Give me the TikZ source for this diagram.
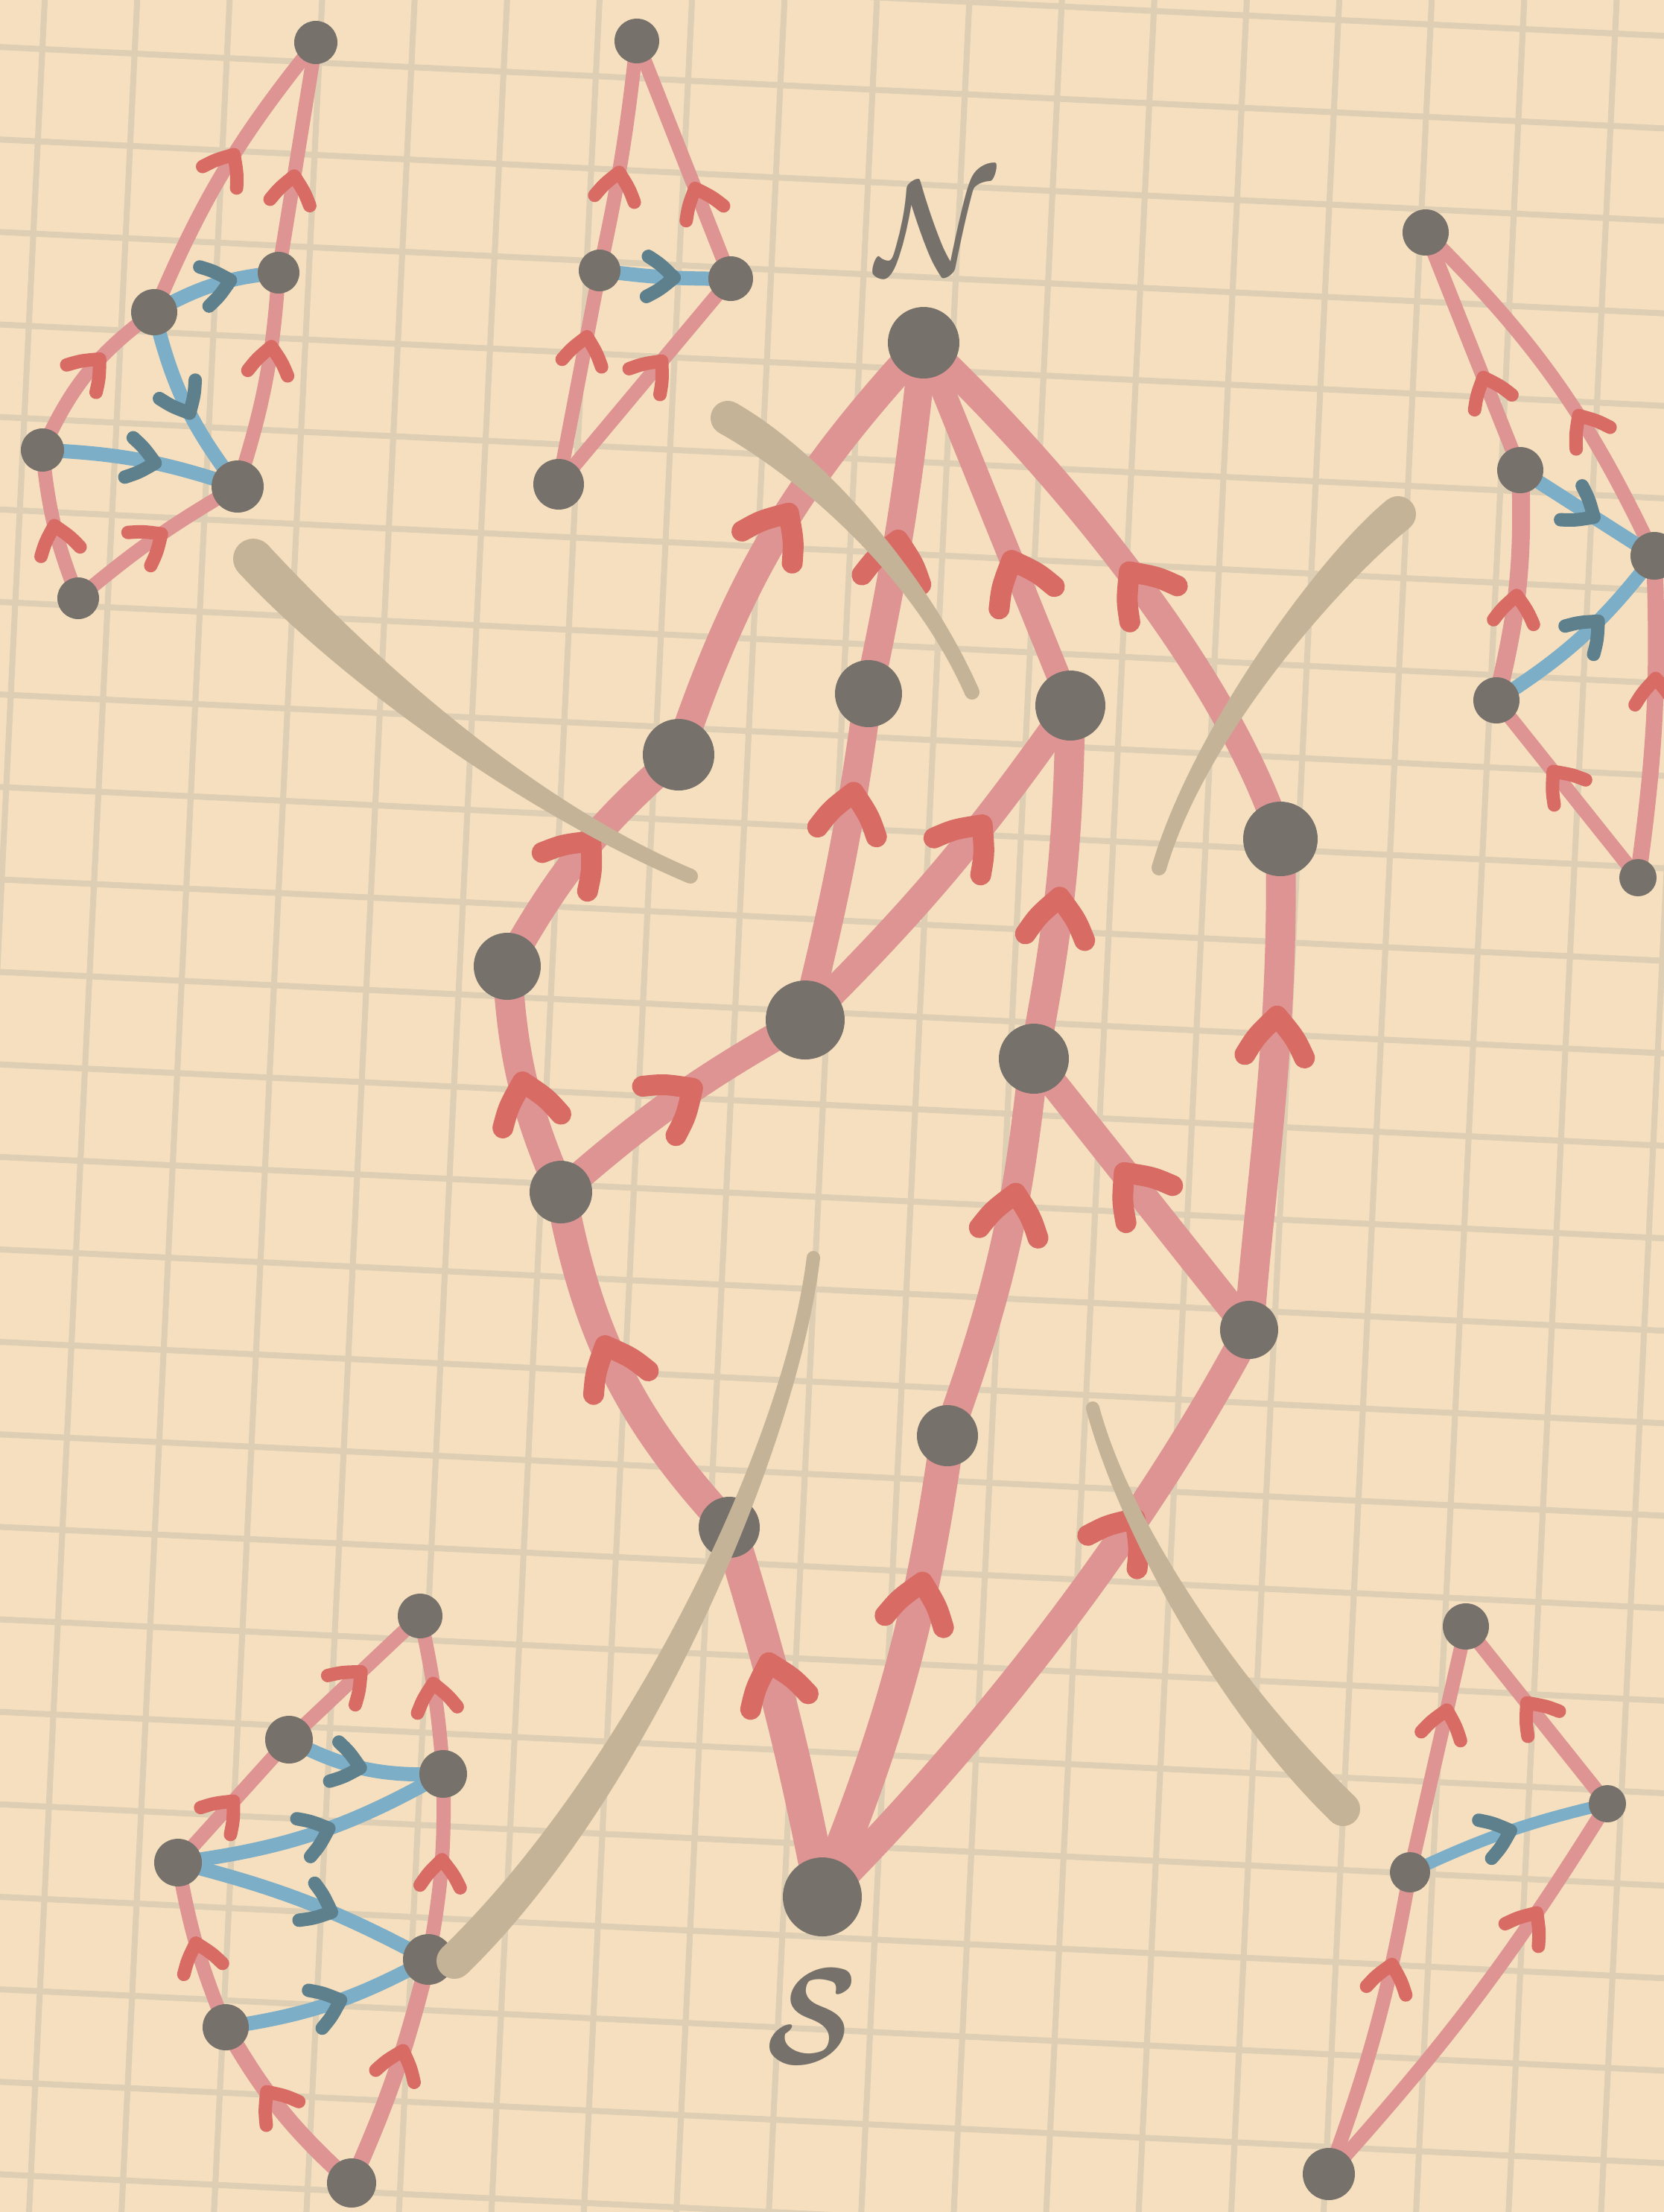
\documentclass[tikz,border=0pt]{standalone}
\usepackage{graphicx}
\usepackage{bm}
\usetikzlibrary{calc,decorations.markings}
\definecolor{bgc}{HTML}{F5DFBE}
\definecolor{gridc}{HTML}{DDCEB4}
\definecolor{edgepink}{HTML}{DF9494}
\definecolor{arrred}{HTML}{D86B64}
\definecolor{edgeblue}{HTML}{7CAEC8}
\definecolor{arrblue}{HTML}{5E808C}
\definecolor{dotgray}{HTML}{76716A}
\definecolor{tanc}{HTML}{C4B397}
\tikzset{
  gridline/.style={draw=gridc, line width=0.08cm},
  blob/.style={circle, fill=dotgray, inner sep=0pt, minimum size=#1},
  medge/.style={draw=edgepink, line width=0.38cm, line cap=round},
  sedge/.style={draw=edgepink, line width=0.19cm, line cap=round},
  bedge/.style={draw=edgeblue, line width=0.19cm, line cap=round},
  marr/.style={postaction={decorate, decoration={markings, mark=at position #1 with {\draw[arrred, line width=0.28cm, line cap=round, line join=round] (-0.54,0.40) .. controls (-0.28,0.26) .. (0,0) .. controls (-0.28,-0.26) .. (-0.54,-0.40);}}}},
  sarr/.style={postaction={decorate, decoration={markings, mark=at position #1 with {\draw[arrred, line width=0.18cm, line cap=round, line join=round] (-0.36,0.27) .. controls (-0.19,0.17) .. (0,0) .. controls (-0.19,-0.17) .. (-0.36,-0.27);}}}},
  barr/.style={postaction={decorate, decoration={markings, mark=at position #1 with {\draw[arrblue, line width=0.18cm, line cap=round, line join=round] (-0.36,0.27) .. controls (-0.19,0.17) .. (0,0) .. controls (-0.19,-0.17) .. (-0.36,-0.27);}}}},
  lbl/.style={text=dotgray, inner sep=0pt},
}
\newcommand\tanstroke[6]{%
  \fill[tanc] ($#1!#5!90:#2$) .. controls ($#2!#5!-90:#1$) and ($#3!#6!90:#4$) .. ($#4!#6!-90:#3$)
    -- ($#4!#6!90:#3$) .. controls ($#3!#6!-90:#4$) and ($#2!#5!90:#1$) .. ($#1!#5!-90:#2$) -- cycle;
  \fill[tanc] #1 circle (#5);
  \fill[tanc] #4 circle (#6);
}
\begin{document}
\begin{tikzpicture}
\useasboundingbox (0,0) rectangle (22.34,-29.69);
\clip (0,0) rectangle (22.34,-29.69);
\fill[bgc] (0,0) rectangle (22.34,-29.69);
% grid
\begin{scope}[rotate=-2.8]
  \foreach \k in {-3,...,22} { \draw[gridline] ({(60+124*\k)/100},3) -- ({(60+124*\k)/100},-33); }
  \foreach \k in {-3,...,26} { \draw[gridline] (-3,{-(63+124*\k)/100}) -- (26,{-(63+124*\k)/100}); }
\end{scope}
% main positions
\coordinate (N) at (12.40,-4.60);
\coordinate (A) at (9.11,-10.13);
\coordinate (B) at (6.81,-12.97);
\coordinate (C) at (7.53,-16.00);
\coordinate (D) at (9.79,-20.50);
\coordinate (E) at (11.66,-9.31);
\coordinate (F) at (14.37,-9.47);
\coordinate (G) at (10.81,-13.69);
\coordinate (H) at (13.88,-14.21);
\coordinate (I) at (17.19,-11.26);
\coordinate (J) at (16.77,-17.85);
\coordinate (K) at (12.72,-19.27);
\coordinate (S) at (11.04,-25.46);
% small graphs positions
\coordinate (TLa) at (4.24,-0.57);
\coordinate (TLb) at (3.74,-3.66);
\coordinate (TLc) at (2.07,-4.19);
\coordinate (TLd) at (0.57,-6.04);
\coordinate (TLe) at (3.19,-6.53);
\coordinate (TLf) at (1.05,-8.03);
\coordinate (TMa) at (8.55,-0.55);
\coordinate (TMb) at (8.05,-3.63);
\coordinate (TMc) at (9.81,-3.74);
\coordinate (TMd) at (7.50,-6.50);
\coordinate (TRa) at (19.14,-3.12);
\coordinate (TRb) at (20.41,-6.31);
\coordinate (TRc) at (22.21,-7.46);
\coordinate (TRd) at (20.09,-9.40);
\coordinate (TRe) at (21.99,-11.78);
\coordinate (BLa) at (5.64,-21.69);
\coordinate (BLb) at (3.88,-23.35);
\coordinate (BLc) at (5.95,-23.81);
\coordinate (BLd) at (2.39,-25.00);
\coordinate (BLe) at (5.75,-26.30);
\coordinate (BLf) at (3.03,-27.21);
\coordinate (BLg) at (4.72,-29.30);
\coordinate (BRa) at (19.68,-21.83);
\coordinate (BRb) at (21.58,-24.21);
\coordinate (BRc) at (18.93,-25.13);
\coordinate (BRd) at (17.84,-29.18);
% main edges
\draw[medge, line width=0.40cm, marr=0.55] (A) to[bend left=12] (N);
\draw[medge, marr=0.44] (E) to[bend right=3] (N);
\draw[medge, line width=0.32cm, marr=0.40] (F) -- (N);
\draw[medge, line width=0.36cm, marr=0.50] (I) .. controls (16.40,-8.80) and (13.80,-5.90) .. (N);
\draw[medge, marr=0.55] (B) to[bend left=10] (A);
\draw[medge, line width=0.40cm, marr=0.50] (C) to[bend left=10] (B);
\draw[medge, marr=0.56] (C) to[bend left=6] (G);
\draw[medge, marr=0.70] (G) to[bend right=3] (E);
\draw[medge, marr=0.64] (G) to[bend right=5] (F);
\draw[medge, line width=0.40cm, marr=0.46] (H) to[bend right=5] (F);
\draw[medge, line width=0.42cm, marr=0.58] (D) to[bend left=16] (C);
\draw[medge, line width=0.46cm, marr=0.63] (S) to[bend right=3] (D);
\draw[medge, line width=0.46cm, marr=0.69] (S) to[bend right=7] (K);
\draw[medge, line width=0.40cm, marr=0.65] (K) to[bend right=7] (H);
\draw[medge, marr=0.58] (J) -- (H);
\draw[medge, line width=0.40cm, marr=0.64] (J) .. controls (16.90,-16.00) and (17.25,-14.00) .. (I);
\draw[medge, line width=0.40cm, marr=0.69] (S) .. controls (13.00,-23.50) and (15.20,-20.80) .. (J);
% top-left graph
\draw[sedge, sarr=0.56] (TLc) to[bend left=8] (TLa);
\draw[sedge, sarr=0.42] (TLb) -- (TLa);
\draw[sedge, sarr=0.66] (TLe) to[bend right=7] (TLb);
\draw[sedge, sarr=0.60] (TLd) to[bend left=15] (TLc);
\draw[sedge, sarr=0.50] (TLf) to[bend left=8] (TLd);
\draw[sedge, sarr=0.54] (TLf) to[bend left=5] (TLe);
\draw[bedge, barr=0.63] (TLc) to[bend left=12] (TLb);
\draw[bedge, barr=0.55] (TLc) to[bend right=12] (TLe);
\draw[bedge, barr=0.57] (TLd) to[bend left=8] (TLe);
% top-middle graph
\draw[sedge, sarr=0.43] (TMb) to[bend right=3] (TMa);
\draw[sedge, sarr=0.38] (TMc) -- (TMa);
\draw[sedge, sarr=0.69] (TMd) -- (TMb);
\draw[sedge, sarr=0.60] (TMd) -- (TMc);
\draw[bedge, barr=0.57] (TMb) to[bend right=4] (TMc);
% top-right graph
\draw[sedge, sarr=0.39] (TRb) -- (TRa);
\draw[sedge, sarr=0.40] (TRc) to[bend right=10] (TRa);
\draw[sedge, line width=0.24cm, sarr=0.46] (TRd) to[bend right=8] (TRb);
\draw[sedge, sarr=0.60] (TRe) -- (TRd);
\draw[sedge, line width=0.22cm, sarr=0.62] (TRe) to[bend right=5] (TRc);
\draw[bedge, barr=0.55] (TRb) -- (TRc);
\draw[bedge, barr=0.60] (TRd) to[bend right=10] (TRc);
% bottom-left graph
\draw[sedge, sarr=0.55] (BLb) -- (BLa);
\draw[sedge, sarr=0.57] (BLc) to[bend right=4] (BLa);
\draw[sedge, sarr=0.50] (BLd) -- (BLb);
\draw[sedge, sarr=0.54] (BLe) to[bend right=6] (BLc);
\draw[sedge, sarr=0.52] (BLf) to[bend left=6] (BLd);
\draw[sedge, line width=0.22cm, sarr=0.62] (BLg) to[bend left=9] (BLf);
\draw[sedge, line width=0.22cm, sarr=0.60] (BLg) to[bend right=5] (BLe);
\draw[bedge, barr=0.48] (BLb) to[bend right=15] (BLc);
\draw[bedge, barr=0.55] (BLd) to[bend right=11] (BLc);
\draw[bedge, barr=0.60] (BLd) to[bend left=7] (BLe);
\draw[bedge, barr=0.55] (BLf) to[bend right=10] (BLe);
% bottom-right graph
\draw[sedge, sarr=0.66] (BRc) -- (BRa);
\draw[sedge, sarr=0.57] (BRb) -- (BRa);
\draw[sedge, sarr=0.70] (BRd) to[bend right=5] (BRc);
\draw[sedge, sarr=0.72] (BRd) to[bend right=5] (BRb);
\draw[bedge, line width=0.16cm, barr=0.52] (BRc) to[bend left=6] (BRb);
% main nodes
\node[blob=0.96cm] (nN) at (N) {};
\node[blob=0.96cm] (nA) at (A) {};
\node[blob=0.90cm] (nB) at (B) {};
\node[blob=0.84cm] (nC) at (C) {};
\node[blob=0.82cm] (nD) at (D) {};
\node[blob=0.90cm] (nE) at (E) {};
\node[blob=0.94cm] (nF) at (F) {};
\node[blob=1.06cm] (nG) at (G) {};
\node[blob=0.94cm] (nH) at (H) {};
\node[blob=1.00cm] (nI) at (I) {};
\node[blob=0.78cm] (nJ) at (J) {};
\node[blob=0.82cm] (nK) at (K) {};
\node[blob=1.06cm] (nS) at (S) {};
% small nodes
\node[blob=0.58cm] (nTLa) at (TLa) {};
\node[blob=0.56cm] (nTLb) at (TLb) {};
\node[blob=0.62cm] (nTLc) at (TLc) {};
\node[blob=0.58cm] (nTLd) at (TLd) {};
\node[blob=0.70cm] (nTLe) at (TLe) {};
\node[blob=0.56cm] (nTLf) at (TLf) {};
\node[blob=0.60cm] (nTMa) at (TMa) {};
\node[blob=0.56cm] (nTMb) at (TMb) {};
\node[blob=0.60cm] (nTMc) at (TMc) {};
\node[blob=0.68cm] (nTMd) at (TMd) {};
\node[blob=0.62cm] (nTRa) at (TRa) {};
\node[blob=0.62cm] (nTRb) at (TRb) {};
\node[blob=0.64cm] (nTRc) at (TRc) {};
\node[blob=0.62cm] (nTRd) at (TRd) {};
\node[blob=0.50cm] (nTRe) at (TRe) {};
\node[blob=0.60cm] (nBLa) at (BLa) {};
\node[blob=0.64cm] (nBLb) at (BLb) {};
\node[blob=0.64cm] (nBLc) at (BLc) {};
\node[blob=0.64cm] (nBLd) at (BLd) {};
\node[blob=0.68cm] (nBLe) at (BLe) {};
\node[blob=0.62cm] (nBLf) at (BLf) {};
\node[blob=0.66cm] (nBLg) at (BLg) {};
\node[blob=0.62cm] (nBRa) at (BRa) {};
\node[blob=0.50cm] (nBRb) at (BRb) {};
\node[blob=0.54cm] (nBRc) at (BRc) {};
\node[blob=0.70cm] (nBRd) at (BRd) {};
% tan strokes
\tanstroke{(3.40,-7.50)}{(4.70,-8.90)}{(7.00,-10.80)}{(9.27,-11.76)}{0.27cm}{0.10cm}
\tanstroke{(9.77,-5.61)}{(10.90,-6.25)}{(12.35,-7.70)}{(13.05,-9.29)}{0.23cm}{0.10cm}
\tanstroke{(18.77,-6.90)}{(17.90,-7.60)}{(16.10,-9.80)}{(15.56,-11.65)}{0.24cm}{0.10cm}
\tanstroke{(10.92,-16.88)}{(10.60,-19.50)}{(8.50,-24.00)}{(6.10,-26.32)}{0.09cm}{0.24cm}
\tanstroke{(14.67,-18.90)}{(15.10,-20.50)}{(16.50,-22.80)}{(18.03,-24.28)}{0.09cm}{0.23cm}
% labels
\node[lbl] (labN) at (12.56,-3.05) {\scalebox{4.2}[5.1]{$\bm{\mathcal{N}}$}};
\node[lbl] (labS) at (10.90,-27.07) {\scalebox{4.5}[5.2]{$\bm{\mathcal{S}}$}};
\end{tikzpicture}
\end{document}
